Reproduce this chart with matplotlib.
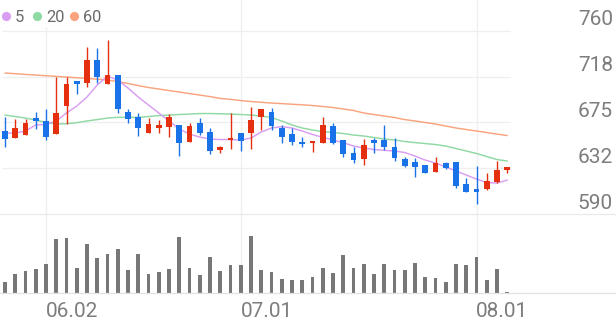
import matplotlib
matplotlib.use("Agg")
import matplotlib.pyplot as plt
import matplotlib.transforms as mtransforms
from matplotlib.lines import Line2D
import pandas as pd

plt.rcParams['font.family'] = ['Roboto', 'DejaVu Sans']

# ---------------- data ----------------
holidays = ('06.03', '06.06')
dates = [d.strftime('%m.%d') for d in pd.bdate_range('2025-05-27', '2025-08-06')
         if d.strftime('%m.%d') not in holidays]

opens = [667.1, 660.6, 663.4, 678.9, 676.6, 664.3, 690.2, 713.4, 711.8, 732.8,
         710.3, 719.0, 685.0, 679.8, 665.5, 670.1, 670.5, 672.7, 657.2, 674.2,
         666.4, 649.5, 658.8, 665.5, 665.5, 680.3, 685.0, 669.6, 664.0, 656.9,
         656.0, 656.3, 671.7, 658.8, 646.4, 640.9, 658.8, 658.8, 652.6, 640.9,
         638.4, 635.6, 629.4, 637.2, 638.7, 618.0, 613.1, 613.7, 620.1, 631.0]
highs = [680.1, 678.2, 678.2, 685.0, 687.2, 716.8, 716.8, 713.4, 745.2, 743.7,
         751.4, 719.0, 687.2, 684.0, 678.9, 677.3, 682.8, 672.7, 674.2, 678.9,
         669.6, 653.2, 683.5, 665.5, 689.0, 687.2, 688.1, 672.7, 669.6, 661.8,
         657.6, 679.8, 674.2, 658.8, 652.6, 659.4, 660.3, 672.7, 660.3, 642.7,
         642.1, 635.6, 643.3, 638.7, 638.7, 623.3, 634.7, 628.5, 639.3, 634.0]
lows = [652.3, 660.6, 663.4, 668.7, 658.8, 664.3, 673.6, 701.4, 707.6, 711.8,
        710.3, 683.8, 674.8, 662.5, 665.5, 665.0, 661.8, 643.9, 657.2, 663.4,
        645.8, 646.4, 650.2, 648.6, 650.2, 668.0, 668.0, 656.3, 654.1, 652.0,
        647.9, 656.3, 655.1, 643.3, 637.2, 635.6, 646.4, 649.5, 639.6, 633.5,
        624.5, 627.9, 629.4, 631.6, 614.0, 610.9, 599.8, 612.5, 619.2, 628.5]
closes = [659.7, 669.9, 674.5, 676.6, 661.8, 683.5, 710.3, 710.3, 732.8, 716.8,
          718.7, 687.5, 678.2, 670.1, 673.3, 672.7, 680.3, 656.3, 672.0, 665.5,
          648.9, 652.0, 660.0, 658.1, 677.3, 687.2, 671.7, 661.8, 656.6, 654.8,
          657.6, 672.7, 656.3, 645.8, 640.3, 654.1, 655.7, 652.0, 641.8, 634.7,
          633.8, 628.5, 637.2, 632.6, 616.2, 610.9, 610.9, 621.1, 631.0, 634.0]
volumes = [107, 183, 217, 237, 287, 533, 543, 243, 483, 343,
           383, 440, 230, 387, 187, 207, 233, 560, 243, 173,
           360, 220, 273, 280, 570, 227, 210, 140, 127, 127,
           157, 243, 193, 377, 247, 283, 183, 287, 223, 230,
           293, 160, 150, 107, 290, 273, 360, 127, 240, 10]
ma5 = [665.2, 665.2, 667.1, 672.7, 673.1, 676.4, 683.8, 690.2, 698.6, 709.7,
       718.0, 714.3, 706.9, 698.6, 691.2, 683.8, 676.4, 669.0, 664.3, 661.5,
       659.7, 659.2, 659.2, 658.8, 660.6, 666.2, 669.9, 671.1, 669.9, 667.1,
       663.9, 661.3, 658.8, 656.3, 653.2, 651.4, 650.0, 649.2, 648.6, 647.2,
       643.9, 640.2, 637.5, 633.8, 630.1, 626.4, 622.6, 619.4, 618.9, 621.7]
ma20 = [681.9, 680.5, 679.1, 677.3, 675.0, 673.6, 673.9, 674.8, 676.4, 677.7,
        679.1, 679.8, 679.8, 679.8, 680.5, 681.4, 681.9, 682.4, 682.8, 683.3,
        683.3, 683.1, 682.8, 682.4, 681.9, 681.0, 679.6, 676.4, 672.7, 669.9,
        668.0, 666.6, 665.7, 664.8, 663.4, 662.5, 661.1, 659.7, 658.8, 657.4,
        656.4, 655.5, 654.6, 653.2, 650.9, 648.6, 646.3, 643.5, 640.7, 639.3]
ma60 = [720.8, 720.2, 719.5, 718.9, 718.3, 717.7, 717.1, 716.4, 715.8, 715.1,
        714.3, 712.9, 711.1, 709.2, 707.4, 706.0, 704.6, 703.2, 701.8, 700.4,
        699.0, 697.3, 696.4, 695.3, 694.4, 693.7, 693.0, 692.5, 691.9, 691.4,
        690.7, 689.8, 688.9, 687.5, 686.1, 683.8, 682.4, 681.0, 679.6, 677.7,
        676.4, 675.0, 673.6, 671.7, 669.9, 668.5, 667.1, 665.7, 664.3, 662.9]

price_ticks = [590, 632.5, 675, 717.5, 760]
price_labels = ['590', '632', '675', '718', '760']
date_ticks = ['06.02', '07.01', '08.01']
legend_labels = ['5', '20', '60']

# ---------------- style ----------------
UP = '#e5300f'
DOWN = '#1a72e8'
MA_COLORS = ['#d99df2', '#8fd9a3', '#f9a47e']
GRID = '#efefef'
TXT = '#7d7d7d'

W, H = 616, 321
fig = plt.figure(figsize=(W / 100, H / 100), dpi=100)

def fy(px):
    return (H - px) / H

plot_right = 511
price_bottom = 214.3
vol_bottom = 292.7

ax = fig.add_axes([0, fy(price_bottom), plot_right / W, price_bottom / H])
axv = fig.add_axes([0, fy(vol_bottom), plot_right / W, (vol_bottom - price_bottom) / H])

n = len(dates)
x = list(range(n))
xl = (-5 / 10.25, (plot_right - 5) / 10.25)
for a in (ax, axv):
    a.set_xlim(*xl)
    a.set_xticks([])
    a.set_yticks([])
    for s in a.spines.values():
        s.set_visible(False)
    a.patch.set_alpha(0)

top_val = 760 + 30.7 * (760 - 590) / (price_bottom - 30.7)
ax.set_ylim(590, top_val)
axv.set_ylim(0, (vol_bottom - price_bottom) * 10)

# grid
for t in price_ticks[1:]:
    ax.axhline(t, xmin=3 / plot_right, xmax=1, color=GRID, lw=0.9, zorder=0)
for lbl in date_ticks:
    i = dates.index(lbl)
    ax.axvline(i, color=GRID, lw=0.9, zorder=0)
    axv.axvline(i, color=GRID, lw=0.9, zorder=0)

fig.add_artist(Line2D([0, 1], [fy(price_bottom)] * 2, transform=fig.transFigure,
                      color='#eaeaea', lw=0.9))
fig.add_artist(Line2D([0, 1], [fy(vol_bottom + 0.5)] * 2, transform=fig.transFigure,
                      color='#e2e2e2', lw=0.9))

# moving averages
for vals, c in zip((ma60, ma20, ma5), (MA_COLORS[2], MA_COLORS[1], MA_COLORS[0])):
    ax.plot(x, vals, color=c, lw=1.05, zorder=2, solid_capstyle='round')

# candles
cols = [UP if c >= o else DOWN for o, c in zip(opens, closes)]
ax.vlines(x, lows, highs, colors=cols, lw=1.0, zorder=3)
bottoms = [min(o, c) for o, c in zip(opens, closes)]
heights = [max(abs(c - o), 1.4) for o, c in zip(opens, closes)]
ax.bar(x, heights, bottom=bottoms, width=0.56, color=cols, zorder=4, linewidth=0)

# volume
axv.bar(x, volumes, width=0.38, color='#777777', linewidth=0, zorder=3)

# price labels (right)
off = mtransforms.ScaledTranslation(0, 5.7 / 100, fig.dpi_scale_trans)
tr = mtransforms.blended_transform_factory(fig.transFigure, ax.transData) + off
for t, lbl in zip(price_ticks, price_labels):
    ax.text(613 / W, t, lbl, transform=tr, ha='right', va='baseline',
            fontsize=15, color=TXT, clip_on=False)

# date labels
trx = mtransforms.blended_transform_factory(axv.transData, fig.transFigure)
for lbl in date_ticks:
    i = dates.index(lbl)
    axv.text(i - 0.02, fy(316.7), lbl, transform=trx, ha='left', va='baseline',
             fontsize=15, color=TXT, clip_on=False)

# legend
lg = fig.add_axes([0, fy(27), 112 / W, 27 / H])
lg.set_zorder(10)
lg.set_xlim(0, 112)
lg.set_ylim(27, 0)
lg.set_xticks([])
lg.set_yticks([])
for s in lg.spines.values():
    s.set_visible(False)
lg.patch.set_facecolor('white')
circle_x = [5.5, 37.0, 73.5]
text_x = [15.0, 46.5, 82.5]
for cx, tx, lbl, c in zip(circle_x, text_x, legend_labels, MA_COLORS):
    lg.plot([cx], [15.5], 'o', ms=6.6, color=c, mew=0)
    lg.text(tx, 21.7, lbl, ha='left', va='baseline', fontsize=11.8, color='#6a6a6a')

fig.savefig('out.png', dpi=100)
